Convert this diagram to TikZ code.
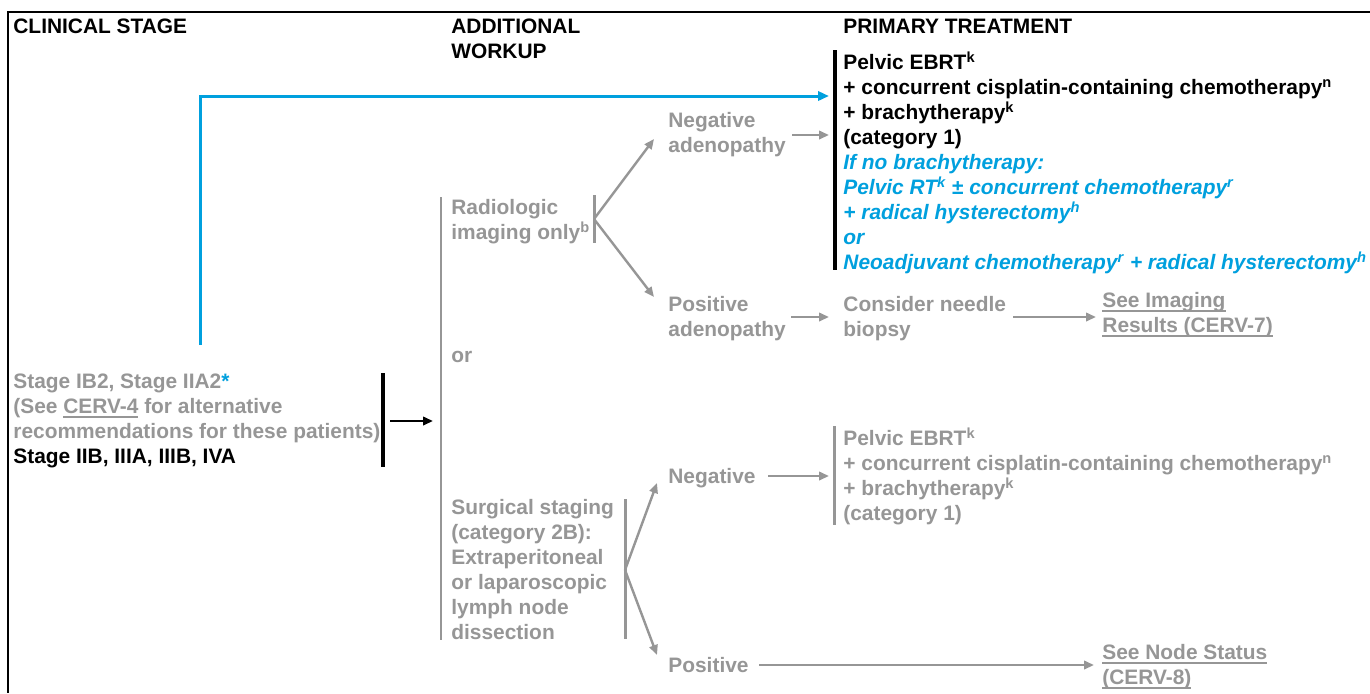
\documentclass[tikz,border=0pt]{standalone}
\usepackage{fontspec}
\setmainfont{Liberation Sans}
\usetikzlibrary{arrows.meta}
\definecolor{ngray}{RGB}{150,150,150}
\definecolor{nblue}{RGB}{0,160,222}
\newcommand\tstrut{\rule{0pt}{11pt}}
\newcommand\fnt{\fontsize{10.45pt}{12.5pt}\selectfont\bfseries}
\newcommand\bit[1]{\textcolor{nblue}{\itshape #1}}
\newcommand\ulx[1]{\setbox0\hbox{#1}\rlap{\rule[-2.1pt]{\wd0}{0.7pt}}\box0\relax}
\begin{document}
\begin{tikzpicture}[x=0.5pt,y=-0.5pt,
  txt/.style={inner sep=0pt, anchor=north west, align=left, font=\fnt},
  gtxt/.style={txt, text=ngray},
  garrow/.style={draw=ngray, line width=1.2pt, -{Triangle[length=5pt,width=4.2pt]}},
  karrow/.style={draw=black, line width=1.2pt, -{Triangle[length=5pt,width=4.2pt]}},
  barrow/.style={draw=nblue, line width=1.5pt, -{Triangle[length=5.5pt,width=4.6pt]}},
  gbar/.style={draw=ngray, line width=1.5pt},
  kbar/.style={draw=black, line width=1.8pt},
  gline/.style={draw=ngray, line width=1.2pt}
]
\useasboundingbox (0,0) rectangle (1370,693);
\fill[white] (0,0) rectangle (1370,693);
\draw[line width=1pt] (1370,12) -- (8,12) -- (8,693);

% headers
\node[txt] (h1) at (13,11) {\tstrut CLINICAL STAGE};
\node[txt] (h2) at (451,11) {\tstrut ADDITIONAL\\WORKUP};
\node[txt] (h3) at (843,11) {\tstrut PRIMARY TREATMENT};

% clinical stage
\node[gtxt] (stage) at (13,366) {\tstrut Stage IB2, Stage IIA2\textcolor{nblue}{*}\\(See \ulx{CERV-4} for alternative\\recommendations for these patients)\\\textcolor{black}{Stage IIB, IIIA, IIIB, IVA}};

% workup
\node[gtxt] (radio) at (451,192) {\tstrut Radiologic\\imaging only\textsuperscript{b}};
\node[gtxt] (or) at (451,340) {\tstrut or};
\node[gtxt] (surg) at (451,492) {\tstrut Surgical staging\\(category 2B):\\Extraperitoneal\\or laparoscopic\\lymph node\\dissection};

% results
\node[gtxt] (negad) at (668,105) {\tstrut Negative\\adenopathy};
\node[gtxt] (posad) at (668,289) {\tstrut Positive\\adenopathy};
\node[gtxt] (neg) at (668,461) {\tstrut Negative};
\node[gtxt] (pos) at (668,650) {\tstrut Positive};

% treatments
\node[txt] (t1) at (843,47) {\tstrut Pelvic EBRT\textsuperscript{k}\\+ concurrent cisplatin-containing chemotherapy\textsuperscript{n}\\+ brachytherapy\textsuperscript{k}\\(category 1)\\\bit{If no brachytherapy:}\\\bit{Pelvic RT\textsuperscript{k} {\upshape\textpm} concurrent chemotherapy\textsuperscript{r}}\\\bit{+ radical hysterectomy\textsuperscript{h}}\\\bit{or}\\\bit{Neoadjuvant chemotherapy\textsuperscript{r} + radical hysterectomy\textsuperscript{h}}};
\node[gtxt] (needle) at (843,289) {\tstrut Consider needle\\biopsy};
\node[gtxt] (imgres) at (1102,285) {\tstrut\ulx{See Imaging}\\\ulx{Results (CERV-7)}};
\node[gtxt] (t2) at (843,423) {\tstrut Pelvic EBRT\textsuperscript{k}\\+ concurrent cisplatin-containing chemotherapy\textsuperscript{n}\\+ brachytherapy\textsuperscript{k}\\(category 1)};
\node[gtxt] (nodest) at (1102,637) {\tstrut\ulx{See Node Status}\\\ulx{(CERV-8)}};

% coordinates
\coordinate (blueS) at (200,345);
\coordinate (t1top) at (829,96);
\coordinate (t1mid) at (829,135);
\coordinate (stB) at (390,421);
\coordinate (wkIn) at (433,421);
\coordinate (radB) at (594,219);
\coordinate (negadIn) at (654,139);
\coordinate (posadIn) at (654,297);
\coordinate (posadOut) at (791,317);
\coordinate (needleIn) at (829,317);
\coordinate (needleOut) at (1013,317);
\coordinate (imgIn) at (1096,317);
\coordinate (surgB) at (625,570);
\coordinate (negIn) at (657,483);
\coordinate (posIn) at (657,655);
\coordinate (negOut) at (768,476);
\coordinate (t2In) at (829,476);
\coordinate (posOut) at (759,665);
\coordinate (nodeIn) at (1094,665);

% bars
\draw[kbar] (835,50) -- (835,270);
\draw[kbar] (383,373) -- (383,467);
\draw[gline] (441,197) -- (441,640);
\draw[gbar] (594,195) -- (594,243);
\draw[gbar] (625,499) -- (625,639);
\draw[gbar] (834,426) -- (834,525);

% connectors
\draw[barrow] (blueS) |- (t1top);
\draw[garrow] (negad.east |- t1mid) ++(6,0) -- (t1mid);
\draw[karrow] (stB) -- (wkIn);
\draw[garrow] (radB) -- (negadIn);
\draw[garrow] (radB) -- (posadIn);
\draw[garrow] (posadOut) -- (needleIn);
\draw[garrow] (needleOut) -- (imgIn);
\draw[garrow] (surgB) -- (negIn);
\draw[garrow] (surgB) -- (posIn);
\draw[garrow] (negOut) -- (t2In);
\draw[garrow] (posOut) -- (nodeIn);
\end{tikzpicture}
\end{document}
